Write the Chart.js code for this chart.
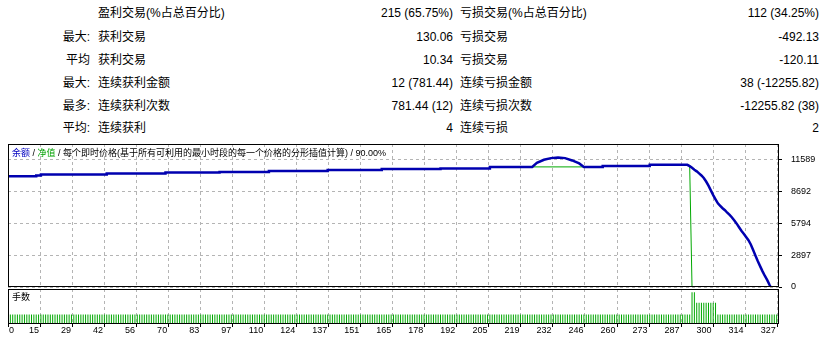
<!DOCTYPE html>
<html><head><meta charset="utf-8">
<script src="https://cdn.jsdelivr.net/npm/chart.js@4.4.1/dist/chart.umd.min.js"></script>
<style>
html,body{margin:0;padding:0;background:#fff;width:827px;height:343px;overflow:hidden;}
body{position:relative;font-family:"Liberation Sans","Noto Sans CJK SC",sans-serif;color:#000;}
.t{position:absolute;font-size:12px;line-height:14px;white-space:nowrap;}
canvas{position:absolute;left:0;}
.cap{position:absolute;font-family:"Liberation Sans","Noto Sans CJK SC",sans-serif;font-size:9px;line-height:11px;white-space:nowrap;}
</style></head>
<body>
<div id="table"></div>
<canvas id="main" width="827" height="163" style="top:134px"></canvas>
<canvas id="lots" width="827" height="57" style="top:286px"></canvas>
<div class="cap" style="left:12px;top:148px"><span style="color:#0000c0">余额</span> / <span style="color:#00a000">净值</span> / 每个即时价格(基于所有可利用的最小时段的每一个价格的分形插值计算) / 90.00%</div>
<div class="cap" style="left:12px;top:292px">手数</div>
<script>
// ---- table text ----
const rowPrefix  = ["", "最大:", "平均", "最大:", "最多:", "平均:"];
const winLabels  = ["盈利交易(%占总百分比)", "获利交易", "获利交易", "连续获利金额", "连续获利次数", "连续获利"];
const winValues  = ["215 (65.75%)", "130.06", "10.34", "12 (781.44)", "781.44 (12)", "4"];
const lossLabels = ["亏损交易(%占总百分比)", "亏损交易", "亏损交易", "连续亏损金额", "连续亏损次数", "连续亏损"];
const lossValues = ["112 (34.25%)", "-492.13", "-120.11", "38 (-12255.82)", "-12255.82 (38)", "2"];

// ---- axes ----
const xTickLabels = ["0","15","29","42","56","70","83","97","110","124","137","151","165","178","192","205","219","232","246","260","273","287","300","314","327"];
const yTickValues = [0, 2897, 5794, 8692, 11589];

// ---- balance curve (trade number, balance) ----
const balanceTrade = [0,12,12,14,14,42,42,67,67,90,90,111,111,136,136,159,159,184,184,205,205,223,225,228,231,234,237,240,243,245,253,253,273,273,289,
  290,291,292,293,294,295,296,297,298,299,300,301,302,303,304,305,306,307,308,309,310,311,312,313,314,315,316,317,318,319,320,321,322,323,324,325,326,327];
const balanceValue = [10040,10040,10110,10110,10190,10190,10280,10280,10375,10375,10430,10430,10520,10520,10610,10610,10700,10700,10740,10740,10885,10885,11250,11530,11680,11744,11680,11470,11200,10885,10885,10977,10977,11069,11069,
  10950,10800,10620,10480,10300,10110,9880,9560,9180,8760,8330,7950,7580,7360,7140,6960,6730,6530,6300,6020,5740,5420,5100,4830,4530,4240,3850,3350,2830,2330,1870,1420,1000,620,180,-230,-650,-1150];

// ---- equity curve (trade number, equity) ----
const equityTrade = [0,12,12,14,14,42,42,67,67,90,90,111,111,136,136,159,159,184,184,205,205,245,253,253,273,273,289,290,291];
const equityValue = [10040,10040,10110,10110,10190,10190,10280,10280,10375,10375,10430,10430,10520,10520,10610,10610,10700,10700,10740,10740,10885,10885,10885,10977,10977,11069,11069,11000,0];

// ---- lots per trade, run-length: count of consecutive trades, lot size ----
const lotRunCount = [290, 2, 9, 26];
const lotRunSize  = [0.3, 1.0, 0.67, 0.3];

// build table
(function(){
  const tb = document.getElementById('table');
  const rowY = [6, 30, 53, 76, 99, 121];
  function add(txt, y, left, right){
    const d = document.createElement('div'); d.className='t'; d.textContent = txt; d.style.top = y+'px';
    if (left!=null) d.style.left = left+'px'; else { d.style.right = right+'px'; d.style.textAlign='right'; }
    tb.appendChild(d);
  }
  for (let i=0;i<6;i++){
    if (rowPrefix[i]) add(rowPrefix[i], rowY[i], null, 827-90);
    add(winLabels[i], rowY[i], 98, null);
    add(winValues[i], rowY[i], null, 827-453);
    add(lossLabels[i], rowY[i], 460, null);
    add(lossValues[i], rowY[i], null, 827-819);
  }
})();

const gridGray = '#b4b4b4';

const framePlugin = { id:'frame', afterDraw(chart){
  const {ctx, chartArea:a} = chart;
  ctx.save(); ctx.strokeStyle='#000'; ctx.lineWidth=1; ctx.setLineDash([]);
  const x0=Math.round(a.left)+0.5, y0=Math.round(a.top)+0.5, x1=Math.round(a.right)-0.5, y1=Math.round(a.bottom)-0.5;
  ctx.strokeRect(x0,y0,x1-x0,y1-y0);
  ctx.restore();
}};

// dashed grid + small black tick marks, placed with the chart's own scales
const gridPlugin = { id:'dashgrid', beforeDatasetsDraw(chart, args, opts){
  const {ctx, chartArea:a, scales} = chart;
  ctx.save(); ctx.strokeStyle = gridGray; ctx.lineWidth = 1; ctx.setLineDash([3,3]);
  ctx.beginPath();
  scales.x.ticks.forEach(t => { const px = Math.round(scales.x.getPixelForValue(t.value)) + 0.5; ctx.moveTo(px, a.top); ctx.lineTo(px, a.bottom); });
  if (opts.horizontal) scales.y.ticks.forEach(t => { const py = Math.round(scales.y.getPixelForValue(t.value)) + 0.5; ctx.moveTo(a.left, py); ctx.lineTo(a.right, py); });
  ctx.stroke();
  ctx.setLineDash([]); ctx.strokeStyle = '#000'; ctx.beginPath();
  if (opts.yMarks) scales.y.ticks.forEach(t => { const py = Math.round(scales.y.getPixelForValue(t.value)) + 0.5; ctx.moveTo(Math.round(a.right), py); ctx.lineTo(Math.round(a.right)+3, py); });
  if (opts.xMarks) scales.x.ticks.forEach(t => { const px = Math.round(scales.x.getPixelForValue(t.value)) + 0.5; ctx.moveTo(px, Math.round(a.bottom)); ctx.lineTo(px, Math.round(a.bottom)+3); });
  ctx.stroke();
  ctx.restore();
}};

const xMax = 328;
function xTicks(s){ s.ticks = xTickLabels.map((l,k)=>({value: k*327/(xTickLabels.length-1)})); }

new Chart(document.getElementById('main'), {
  type:'line',
  data:{ datasets:[
    { label:'余额', data: balanceTrade.map((t,i)=>({x:t, y:balanceValue[i]})), borderColor:'#0000b0', borderWidth:2.5, pointRadius:0, tension:0, order:0 },
    { label:'净值', data: equityTrade.map((t,i)=>({x:t, y:equityValue[i]})), borderColor:'#00a800', borderWidth:1, pointRadius:0, tension:0, order:1 }
  ]},
  options:{
    responsive:false, animation:false, devicePixelRatio:1,
    layout:{padding:{left:8, top:10, right:0, bottom:10}},
    plugins:{legend:{display:false}, tooltip:{enabled:false}, dashgrid:{horizontal:true, yMarks:true}},
    scales:{
      x:{type:'linear', min:0, max:xMax, afterBuildTicks:xTicks,
         ticks:{display:false}, grid:{display:false}, border:{display:false}, afterFit:s=>{s.height=0;}},
      y:{position:'right', min:0, max:12960, afterBuildTicks:s=>{s.ticks=yTickValues.map(v=>({value:v}));},
         ticks:{font:{family:'Liberation Sans', size:9}, color:'#000', padding:4, callback:v=>String(v)},
         grid:{display:false}, border:{display:false}, afterFit:s=>{s.width=48;}}
    }
  },
  plugins:[gridPlugin, framePlugin]
});

const lotPoints = [];
(function(){ let t=1; lotRunCount.forEach((n,r)=>{ for(let j=0;j<n;j++){ lotPoints.push({x:t, y:lotRunSize[r]}); t++; } }); })();

const xLabelPlugin = { id:'xlabels', afterDraw(chart){
  const s = chart.scales.x, ctx = chart.ctx;
  ctx.save(); ctx.font='9px "Liberation Sans"'; ctx.fillStyle='#000'; ctx.textBaseline='middle';
  s.ticks.forEach((t,k)=>{
    const px = s.getPixelForValue(t.value);
    if (k===0){ ctx.textAlign='left'; ctx.fillText(xTickLabels[k], px+1, chart.chartArea.bottom+7); }
    else { ctx.textAlign='right'; ctx.fillText(xTickLabels[k], px-1, chart.chartArea.bottom+7); }
  });
  ctx.restore();
}};

new Chart(document.getElementById('lots'), {
  type:'bar',
  data:{ datasets:[{ label:'手数', data: lotPoints, backgroundColor:'#00a800', barThickness:1, borderWidth:0, inflateAmount:0 }]},
  options:{
    responsive:false, animation:false, devicePixelRatio:1,
    layout:{padding:{left:8, top:3, right:0, bottom:19}},
    plugins:{legend:{display:false}, tooltip:{enabled:false}, dashgrid:{horizontal:false, xMarks:true}},
    scales:{
      x:{type:'linear', min:0, max:xMax, offset:false, afterBuildTicks:xTicks,
         ticks:{display:false}, grid:{display:false}, border:{display:false}, afterFit:s=>{s.height=0;}},
      y:{position:'right', min:0, max:1.1, ticks:{display:false}, grid:{display:false},
         border:{display:false}, afterFit:s=>{s.width=48;}}
    }
  },
  plugins:[gridPlugin, framePlugin, xLabelPlugin]
});
</script>
</body></html>
